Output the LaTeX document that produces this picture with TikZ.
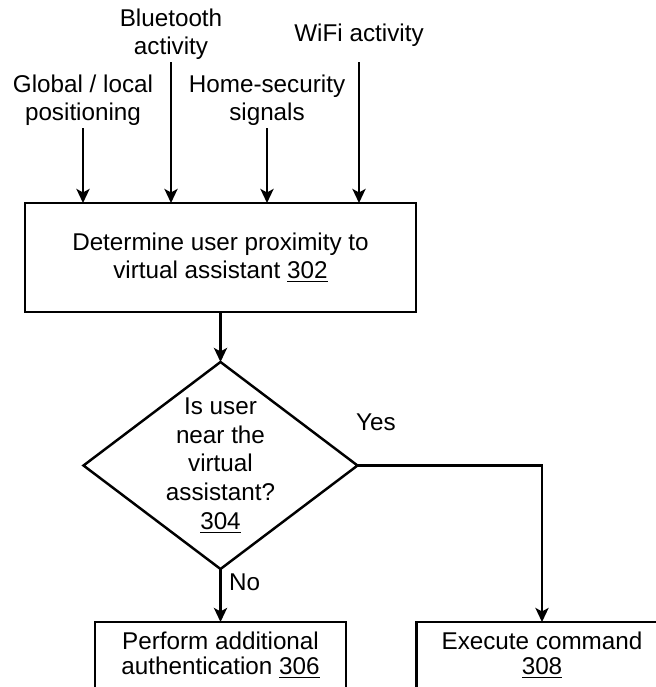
\documentclass[tikz,border=0pt]{standalone}
\usepackage{fontspec}
\setmainfont{Liberation Sans}
\usetikzlibrary{arrows.meta,positioning,shapes.geometric}
\tikzset{procbox/.style={draw, line width=1.4pt, align=center, inner sep=1pt, outer sep=0pt, font=\fontsize{13.8pt}{16.4pt}\selectfont}}
\tikzset{lowbox/.style={procbox, minimum width=5.02cm, minimum height=1.32cm, font=\fontsize{13.8pt}{14.5pt}\selectfont}}
\tikzset{decide/.style={draw, diamond, line width=1.4pt, inner sep=0pt, outer sep=0pt, minimum width=5.48cm, minimum height=4.14cm}}
\tikzset{src/.style={align=center, inner sep=1pt, anchor=south, font=\fontsize{13.8pt}{16.4pt}\selectfont}}
\tikzset{lbl/.style={inner sep=1pt, anchor=west, font=\fontsize{13.8pt}{16.4pt}\selectfont}}
\tikzset{arr/.style={draw, -{Stealth[length=8pt, width=7.5pt, inset=2pt]}, line width=1.3pt}}

\begin{document}
\begin{tikzpicture}
    \useasboundingbox (0,0) rectangle (13.1,-13.74);
    \node[src] (gps) at (1.66,-2.56) {Global / local\\positioning};
    \node[src] (bt) at (3.42,-1.24) {Bluetooth\\activity};
    \node[src] (home) at (5.34,-2.56) {Home-security\\signals};
    \node[src] (wifi) at (7.18,-0.98) {WiFi activity};

    \node[procbox, minimum width=7.82cm, minimum height=2.18cm] (prox) at (4.41,-5.15)
        {Determine user proximity to\\virtual assistant \underline{302}};

    \node[decide] (near) at (4.41,-9.31) {};
    \node[procbox, draw=none] (neartext) at (near.center)
        {Is user\\near the\\virtual\\assistant?\\\underline{304}};

    \node[lowbox] (auth) at (4.41,-13.1) {Perform additional\\authentication \underline{306}};
    \node[lowbox] (exec) at (10.84,-13.1) {Execute command\\\underline{308}};

    \node[lbl] (yes) at (7.08,-8.44) {Yes};
    \node[lbl] (no) at (4.54,-11.64) {No};

    \draw[arr] (gps.south) -- (gps.south |- prox.north);
    \draw[arr] (bt.south) -- (bt.south |- prox.north);
    \draw[arr] (home.south) -- (home.south |- prox.north);
    \draw[arr, shorten <=0.26cm] (wifi.south) -- (wifi.south |- prox.north);
    \draw[arr] (prox.south) -- (near.north);
    \draw[arr] (near.south) -- (auth.north);
    \draw[arr] (near.east) -| (exec.north);
\end{tikzpicture}
\end{document}
